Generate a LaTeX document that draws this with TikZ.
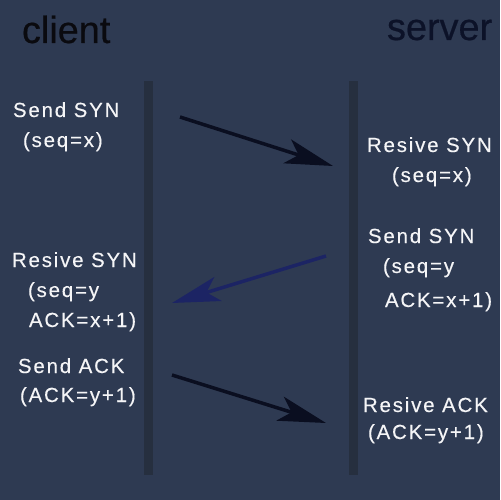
\documentclass[tikz,border=0pt]{standalone}
\usepackage{fontspec}
\setmainfont{Liberation Sans}
\usetikzlibrary{arrows.meta}
\newlength{\du}
\setlength{\du}{1bp}
\definecolor{diabgcolor}{rgb}{0.180392, 0.227451, 0.321569}
\definecolor{dialifecolor}{rgb}{0.149020, 0.184314, 0.247059}
\definecolor{diatextcolor}{rgb}{0.960784, 0.960784, 0.968627}
\definecolor{diaclientcolor}{rgb}{0.039216, 0.039216, 0.058824}
\definecolor{diaservercolor}{rgb}{0.047059, 0.070588, 0.156863}
\definecolor{dialinecolor}{rgb}{0.039216, 0.054902, 0.125490}
\definecolor{diabluecolor}{rgb}{0.109804, 0.141176, 0.392157}

\begin{document}
\begin{tikzpicture}[
  lifeline/.style={fill=dialifecolor, draw=none},
  msg/.style={line width=3.5\du, line cap=butt, draw=dialinecolor,
    -{Stealth[length=48bp, width=25bp, inset=12bp]}},
  msgtext/.style={anchor=base west, inner sep=0pt, outer sep=0pt, color=diatextcolor,
    font=\fontsize{20.5}{24}\selectfont\addfontfeature{LetterSpace=9,FakeBold=0.3}},
  headtext/.style={anchor=base west, inner sep=0pt, outer sep=0pt,
    font=\fontsize{38}{44}\selectfont\addfontfeature{FakeBold=0.5}}]
\pgftransformxscale{1.000000}
\pgftransformyscale{-1.000000}
% background
\useasboundingbox (0\du,0\du) rectangle (500\du,500\du);
\fill[diabgcolor] (0\du,0\du) rectangle (500\du,500\du);
% lifelines
\fill[lifeline] (144\du,81\du) rectangle (153\du,475\du);
\fill[lifeline] (349\du,81\du) rectangle (358\du,475\du);
% headers
\node[headtext, color=diaclientcolor] (client) at (22\du,43\du){client};
\node[headtext, color=diaservercolor] (server) at (387\du,40\du){server};
% client side
\node[msgtext] (sendsyn) at (13\du,117\du){Send SYN};
\node[msgtext] (sendsynseq) at (23\du,147\du){(seq=x)};
\node[msgtext] (resivesynack) at (12\du,267\du){Resive SYN};
\node[msgtext] (resivesynackseq) at (28\du,297\du){(seq=y};
\node[msgtext] (resivesynackack) at (29\du,327\du){ACK=x+1)};
\node[msgtext] (sendack) at (18\du,373\du){Send ACK};
\node[msgtext] (sendackack) at (20\du,402\du){(ACK=y+1)};
% server side
\node[msgtext] (resivesyn) at (367\du,152\du){Resive SYN};
\node[msgtext] (resivesynseq) at (392\du,182\du){(seq=x)};
\node[msgtext] (sendsynack) at (368\du,243\du){Send SYN};
\node[msgtext] (sendsynackseq) at (383\du,273\du){(seq=y};
\node[msgtext] (sendsynackack) at (385\du,307\du){ACK=x+1)};
\node[msgtext] (resiveack) at (363\du,412\du){Resive ACK};
\node[msgtext] (resiveackack) at (368\du,439\du){(ACK=y+1)};
% arrow ends
\coordinate (synfrom) at (180\du,117\du);
\coordinate (synto) at (333\du,166\du);
\coordinate (synackfrom) at (326\du,256\du);
\coordinate (synackto) at (172\du,303\du);
\coordinate (ackfrom) at (172\du,375\du);
\coordinate (ackto) at (326\du,423\du);
\draw[msg] (synfrom)--(synto);
\draw[msg, draw=diabluecolor] (synackfrom)--(synackto);
\draw[msg] (ackfrom)--(ackto);
\end{tikzpicture}
\end{document}
